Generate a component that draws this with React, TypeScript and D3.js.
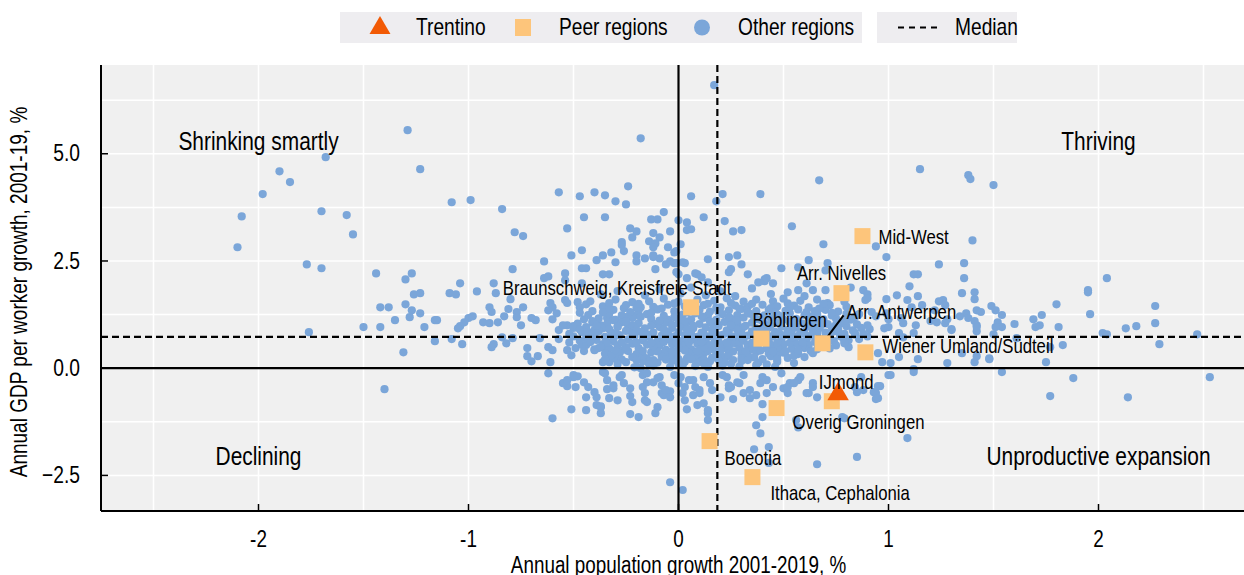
import React from "react";
import * as d3 from "d3";

// ---------- DATA ----------
const xTicks = [-2, -1, 0, 1, 2];
const yTicks = [-2.5, 0, 2.5, 5];
const xGrid = [-2.5, -2, -1.5, -1, -0.5, 0, 0.5, 1, 1.5, 2, 2.5];
const yGrid = [-2.5, -1.25, 0, 1.25, 2.5, 3.75, 5, 6.25];
const medianX = 0.185;
const medianY = 0.73;

const quadrantLabels = ["Shrinking smartly", "Thriving", "Declining", "Unproductive expansion"];
const quadrantX = [-2, 2, -2, 2];
const quadrantY = [5.3, 5.3, -2.05, -2.05];

const trentinoX = 0.76;
const trentinoY = -0.58;

const peerNames = [
  "Mid-West",
  "Arr. Nivelles",
  "Arr. Antwerpen",
  "Braunschweig, Kreisfreie Stadt",
  "Böblingen",
  "Wiener Umland/Südteil",
  "IJmond",
  "Overig Groningen",
  "Boeotia",
  "Ithaca, Cephalonia",
];
const peerX = [0.876, 0.776, 0.686, 0.06, 0.395, 0.89, 0.73, 0.467, 0.148, 0.352];
const peerY = [3.08, 1.75, 0.58, 1.42, 0.69, 0.37, -0.77, -0.93, -1.7, -2.54];

const otherRegions: [number, number][] = [
  // far left
  [-2.08,3.54],[-2.10,2.82],[-1.98,4.06],[-1.90,4.59],[-1.85,4.34],[-1.68,4.92],[-1.70,3.66],[-1.58,3.57],[-1.55,3.12],[-1.77,2.42],[-1.70,2.33],[-1.76,0.84],[-1.29,5.55],[-1.23,4.64],[-1.40,-0.49],[-1.31,0.37],
  [-1.44,2.21],[-1.30,2.07],[-1.27,2.21],[-1.26,1.72],[-1.23,1.75],[-1.42,1.42],[-1.38,1.42],[-1.30,1.49],[-1.27,1.35],[-1.28,1.19],[-1.23,1.28],[-1.35,1.12],[-1.50,0.96],[-1.42,0.96],[-1.21,0.96],[-1.16,1.12],[-1.15,1.12],[-1.16,0.63],
  [-1.08,3.87],[-0.99,3.92],[-0.84,3.71],[-0.78,3.17],[-0.74,3.08],[-0.57,4.10],[-0.47,4.01],[-0.40,4.10],[-0.35,4.03],[-0.30,3.89],[-0.25,3.82],[-0.24,4.24],[-0.18,5.36],[0.06,4.01],[-0.45,3.52],[-0.35,3.52],[-0.53,3.26],[-0.46,2.75],[-0.51,2.63],[-0.64,2.49],[-0.79,2.31],[-1.04,1.98],[-0.88,1.98],[-0.96,1.79],[-1.09,1.75],[-1.06,1.72],[-0.87,1.75],[-0.54,2.21],[-0.46,2.33],[-0.44,2.33],[-0.36,2.19],[-0.33,2.19],[-0.39,2.52],[-0.36,2.63],[-0.32,2.70],[-0.30,2.47],[-0.26,2.73],[-0.27,2.94],[-0.27,2.87],[-0.22,3.05],[-0.23,3.26],[-0.20,3.19],[-0.13,3.47],[-0.10,3.47],[-0.07,3.64],[-0.12,3.15],[-0.09,3.05],[-0.04,3.19],[-0.14,2.96],[-0.11,2.91],[-0.12,2.82],[-0.05,2.82],[-0.01,2.73],[0.01,2.89],[0.00,3.45],[0.04,3.40],[0.04,3.22],[0.06,3.24],[-0.20,2.63],[-0.16,2.56],[-0.12,2.59],[-0.09,2.56],[-0.04,2.49],[-0.02,2.45],[-0.06,2.42],[0.02,2.47],[0.03,2.45],[-0.11,2.31],[-0.20,2.49],[-0.01,2.24],[0.00,2.19],[0.04,2.10],[0.09,2.19],[-0.64,2.10],[-0.62,2.14],[-0.54,2.05],[-0.46,1.98],
  // upper right
  [0.17,6.60],[1.15,4.64],[0.67,4.38],[0.39,4.06],[0.21,4.06],[0.18,3.89],[0.12,3.52],[0.22,3.43],[0.26,3.19],[0.30,3.22],[0.54,3.31],[0.69,2.89],[0.94,2.84],[0.99,2.59],[1.24,2.42],[0.14,2.54],[0.24,2.59],[0.28,2.63],[0.30,2.42],[0.25,2.31],[0.24,2.24],[0.33,2.19],[0.41,2.07],[0.41,2.03],[0.62,2.52],[0.70,2.28],[1.12,2.19],[1.14,2.19],[1.10,1.91],
  [1.38,4.50],[1.39,4.41],[1.50,4.27],[1.40,2.98],[1.36,2.45],[1.36,2.10],[1.35,1.75],[1.41,1.77],[1.41,1.61],[1.26,1.59],[1.49,1.45],[1.51,1.35],[1.54,1.24],[1.42,1.35],[1.44,1.31],[1.37,1.28],[1.38,1.17],[1.34,1.21],[1.27,1.05],[1.30,0.91],[1.42,1.00],[1.42,0.86],[1.52,1.07],[1.54,0.96],[1.51,0.96],[1.60,1.03],[1.50,0.79],[1.69,1.14],[1.73,1.24],[1.70,0.96],[1.72,1.00],[1.80,1.49],[1.81,0.96],[1.61,0.70],[1.77,0.49],[1.83,0.54],[1.75,0.14],[1.54,-0.09],[1.41,0.14],[1.42,0.28],[1.48,0.21],[1.28,0.12],[1.35,0.35],[1.88,-0.23],[1.77,-0.65],[1.95,1.82],[1.95,1.77],[1.96,1.26],[2.04,2.10],[2.02,0.82],[2.04,0.79],[2.13,0.93],[2.18,0.98],[2.27,1.45],[2.27,1.05],[2.29,0.56],[2.14,-0.68],[2.47,0.79],[2.53,-0.21],
  // right of the core
  [1.14,1.68],[1.09,1.59],[1.04,1.70],[1.24,1.56],[0.99,1.61],[0.88,1.82],[0.90,1.72],[0.89,1.59],[0.90,1.63],[1.16,1.47],[1.11,1.42],[1.22,1.35],[1.27,1.47],[0.70,1.82],[0.71,1.52],[0.92,1.31],[0.94,1.21],[0.84,1.19],[0.86,1.26],[0.99,1.28],[1.00,1.14],[1.06,1.17],[1.07,1.05],[1.13,1.00],[1.12,0.82],[1.20,1.10],[1.23,1.07],[1.28,1.14],[1.30,0.89],[1.41,1.10],[1.42,0.96],[0.91,0.91],[0.98,0.93],[1.00,0.96],[1.05,0.82],[1.07,0.72],[0.84,0.82],[0.86,0.68],[0.78,0.72],[0.79,0.63],[0.74,0.86],[0.81,0.49],[0.95,0.35],[0.97,0.14],[1.01,0.12],[1.05,0.26],[1.12,-0.02],[1.14,0.21],[1.48,0.23],[1.00,-0.16],[0.96,-0.42],[0.93,-0.56],[0.94,-0.72],[0.84,-0.44],[0.85,-0.56],[0.78,-1.14],[1.09,-1.63],
  // left of the core
  [-0.80,1.61],[-0.54,1.59],[-0.53,1.52],[-0.61,1.52],[-0.60,1.42],[-0.62,1.35],[-0.58,1.28],[-0.48,1.54],[-0.47,1.42],[-0.44,1.49],[-0.42,1.56],[-0.22,1.54],[-0.18,1.42],[-0.26,1.40],[-0.90,1.42],[-0.89,1.31],[-0.81,1.38],[-0.77,1.31],[-0.77,1.19],[-0.74,1.42],[-0.70,1.17],[-0.68,1.12],[-0.98,1.21],[-1.00,1.17],[-1.02,1.07],[-1.04,0.98],[-1.05,0.93],[-0.93,1.07],[-0.90,1.05],[-0.86,1.07],[-0.83,1.21],[-0.75,1.00],[-0.60,1.14],[-0.57,0.89],[-0.53,1.00],[-0.50,0.98],[-0.46,0.84],[-0.43,0.84],[-0.40,0.89],[-0.37,1.00],[-0.34,1.17],[-0.31,1.12],[-0.29,0.96],[-0.25,1.19],[-0.24,1.00],[-0.20,1.24],[-1.08,0.68],[-1.03,0.56],[-0.88,0.56],[-0.89,0.49],[-0.84,0.72],[-0.82,0.58],[-0.79,0.70],[-0.72,0.47],[-0.66,0.70],[-0.72,0.28],[-0.70,0.16],[-0.67,0.28],[-0.62,0.49],[-0.60,0.42],[-0.57,0.68],[-0.53,0.42],[-0.51,0.30],[-0.61,0.14],[-0.62,-0.12],[-0.49,0.47],[-0.46,0.54],[-0.43,0.65],[-0.40,0.42],[-0.38,0.47],[-0.36,0.49],[-0.54,-0.35],[-0.53,-0.42],[-0.50,-0.16],[-0.48,-0.19],[-0.49,-0.44],[-0.44,-0.68],[-0.40,-0.56],[-0.39,-0.68],[-0.51,-0.96],[-0.60,-1.17],[-0.44,-0.98],[-0.39,-0.86],[-0.37,-0.91],[-0.34,-0.49],[-0.31,-0.47],[-0.33,-0.70],[-0.29,-0.75],[-0.36,-0.09],[-0.27,-0.16],[-0.23,-0.65],[-0.22,-0.79],[-0.23,-1.07],[-0.19,-1.14],[-0.17,-0.44],[-0.21,0.02],[-0.18,0.00],[-0.16,-0.75],[-0.36,0.14],[-0.33,0.14],[-0.31,0.23],
  // below zero
  [-0.37,-0.89],[-0.37,-1.05],[-0.11,-1.05],[-0.10,-0.91],[-0.15,-0.79],[-0.16,-0.58],[-0.08,-0.58],[-0.04,-0.54],[0.02,-0.58],[0.03,-0.75],[0.04,-0.96],[0.09,-0.86],[0.12,-0.82],[0.14,-1.05],[0.14,-1.21],[0.07,-0.63],[-0.04,-2.66],[0.02,-2.84],[0.24,-0.47],[0.26,-0.72],[0.31,-0.58],[0.34,-0.70],[0.37,-1.33],[0.39,-1.52],[0.40,-0.84],[0.40,-1.14],[0.36,-1.89],[0.43,-1.84],[0.43,-2.21],[0.42,-0.58],[0.45,-0.44],[0.50,-0.47],[0.52,-0.58],[0.56,-1.21],[0.57,-1.38],[0.66,-2.24],[0.62,-0.58],[0.66,-0.68],[0.64,-0.35],[0.79,-1.17],[0.85,-2.07],[0.95,-0.42],[0.94,-0.58],[0.95,-0.70],[0.88,-0.51],[0.87,-0.21],[0.40,-0.21],[0.39,-0.35],[0.28,-0.33],[0.31,-0.16],[0.21,-0.16],[0.24,-0.40],[0.12,-0.21],[0.15,-0.35],
  [-0.35,-0.12],[-0.34,-0.28],[-0.31,-0.40],[-0.28,-0.21],[-0.26,-0.35],[-0.23,-0.47],[-0.17,-0.16],[-0.15,-0.33],[-0.10,-0.23],[-0.08,-0.40],[-0.07,-0.63],[-0.02,-0.16],[0.00,-0.35],[0.05,-0.28],[0.08,-0.44],[0.10,-0.51],[-0.45,-0.33],[-0.43,-0.44],[-0.50,-0.21],[-0.55,-0.35],[-0.53,-0.28],[0.53,-0.35],[0.57,-0.28],[1.01,-0.16],[1.12,-0.09],
  [-0.15,-0.12],[-0.12,-0.33],[-0.09,-0.21],[-0.06,-0.51],[-0.04,-0.68],[0.01,-0.21],[0.03,-0.44],[0.07,-0.28],[0.10,-0.58],[0.14,-0.98],[0.16,-0.51],[0.20,-0.68],[0.23,-0.21],[0.25,-0.44],[0.29,-0.35],[0.34,-0.51],[0.37,-0.63],[0.42,-0.28],[0.49,-0.12],[0.52,-0.44],[0.55,-0.35],[0.58,-0.21],[0.61,-0.58],[0.64,-0.44],
  // above the core
  [-0.12,2.63],[-0.02,2.70],[-0.01,2.45],[0.08,2.21],[0.11,2.12],[0.14,2.00],[0.38,2.00],[0.42,2.10],[0.45,1.98],[0.49,2.33],[0.57,2.35],[0.52,1.77],[0.57,1.82],[0.61,1.98],[0.64,1.82],[0.71,2.45],
  // dense core
  [-0.37,1.72],[-0.29,1.8],[-0.16,1.7],[-0.09,1.84],[0.01,1.74],[0.06,1.88],[0.13,1.7],[0.2,1.79],[0.27,1.68],[0.35,1.86],[0.44,1.73],[0.6,1.68],[0.76,1.7],[0.82,1.88],
  [-0.3,1.6],[-0.14,1.56],[-0.07,1.62],[0.0,1.55],[0.09,1.6],[0.17,1.57],[0.23,1.63],[0.31,1.55],[0.37,1.6],[0.45,1.56],[0.5,1.62],[0.58,1.57],[0.66,1.6],[0.79,1.55],
  [-0.36,1.44],[-0.25,1.47],[-0.12,1.43],[-0.05,1.48],[0.03,1.44],[0.12,1.47],[0.2,1.42],[0.27,1.46],[0.33,1.43],[0.4,1.48],[0.47,1.44],[0.55,1.46],[0.62,1.42],[0.72,1.47],[0.8,1.43],
  [-0.41,1.33],[-0.31,1.36],[-0.19,1.34],[-0.1,1.37],[-0.02,1.33],[0.1,1.36],[0.15,1.32],[0.24,1.35],[0.3,1.38],[0.37,1.33],[0.43,1.36],[0.51,1.34],[0.57,1.37],[0.65,1.33],[0.7,1.36],[0.76,1.32],
  [-0.43,1.24],[-0.33,1.27],[-0.27,1.23],[-0.15,1.26],[-0.07,1.22],[0.02,1.25],[0.08,1.28],[0.14,1.23],[0.21,1.26],[0.28,1.24],[0.34,1.27],[0.41,1.23],[0.47,1.25],[0.53,1.28],[0.6,1.24],[0.66,1.26],[0.73,1.23],[0.8,1.27],
  [-0.45,1.14],[-0.38,1.16],[-0.3,1.13],[-0.22,1.17],[-0.13,1.15],[-0.05,1.13],[0.01,1.16],[0.06,1.14],[0.12,1.17],[0.18,1.13],[0.25,1.15],[0.31,1.18],[0.38,1.14],[0.44,1.16],[0.5,1.13],[0.56,1.15],[0.62,1.17],[0.69,1.14],[0.75,1.16],[0.82,1.13],
  [-0.48,1.04],[-0.41,1.06],[-0.34,1.03],[-0.27,1.07],[-0.19,1.05],[-0.11,1.03],[-0.06,1.06],[0.0,1.04],[0.04,1.07],[0.1,1.03],[0.16,1.05],[0.22,1.08],[0.28,1.04],[0.35,1.06],[0.41,1.03],[0.47,1.05],[0.53,1.07],[0.59,1.04],[0.65,1.06],[0.71,1.03],[0.78,1.05],[0.85,1.02],
  [-0.5,0.94],[-0.44,0.96],[-0.36,0.93],[-0.29,0.97],[-0.23,0.95],[-0.16,0.93],[-0.09,0.96],[-0.03,0.94],[0.02,0.97],[0.07,0.93],[0.13,0.95],[0.19,0.98],[0.25,0.94],[0.31,0.96],[0.37,0.93],[0.43,0.95],[0.49,0.97],[0.55,0.94],[0.61,0.96],[0.67,0.93],[0.73,0.95],[0.8,0.98],[0.87,0.94],
  [-0.45,0.84],[-0.38,0.86],[-0.32,0.83],[-0.25,0.87],[-0.18,0.85],[-0.12,0.83],[-0.06,0.86],[0.0,0.84],[0.05,0.87],[0.11,0.83],[0.17,0.85],[0.23,0.88],[0.29,0.84],[0.35,0.86],[0.41,0.83],[0.46,0.85],[0.52,0.87],[0.58,0.84],[0.64,0.86],[0.7,0.83],[0.76,0.85],[0.83,0.88],
  [-0.5,0.74],[-0.42,0.76],[-0.35,0.73],[-0.28,0.77],[-0.21,0.75],[-0.14,0.73],[-0.08,0.76],[-0.02,0.74],[0.03,0.77],[0.09,0.73],[0.15,0.75],[0.21,0.78],[0.27,0.74],[0.33,0.76],[0.39,0.73],[0.45,0.75],[0.51,0.77],[0.57,0.74],[0.63,0.76],[0.71,0.73],[0.77,0.75],[0.84,0.78],[0.9,0.74],
  [-0.47,0.64],[-0.39,0.66],[-0.31,0.63],[-0.24,0.67],[-0.17,0.65],[-0.1,0.63],[-0.04,0.66],[0.02,0.64],[0.07,0.67],[0.13,0.63],[0.19,0.65],[0.25,0.68],[0.31,0.64],[0.37,0.66],[0.43,0.63],[0.49,0.65],[0.55,0.67],[0.61,0.64],[0.67,0.66],[0.74,0.63],[0.81,0.65],
  [-0.44,0.54],[-0.36,0.56],[-0.29,0.53],[-0.22,0.57],[-0.15,0.55],[-0.09,0.53],[-0.03,0.56],[0.03,0.54],[0.09,0.57],[0.15,0.53],[0.21,0.55],[0.27,0.58],[0.33,0.54],[0.38,0.56],[0.44,0.53],[0.5,0.55],[0.56,0.57],[0.62,0.54],[0.68,0.56],[0.75,0.53],
  [-0.4,0.44],[-0.33,0.46],[-0.26,0.43],[-0.19,0.47],[-0.12,0.45],[-0.06,0.43],[0.0,0.46],[0.06,0.44],[0.11,0.47],[0.17,0.43],[0.23,0.45],[0.29,0.48],[0.35,0.44],[0.42,0.46],[0.48,0.43],[0.54,0.45],[0.6,0.47],[0.66,0.44],[0.72,0.46],
  [-0.35,0.34],[-0.28,0.36],[-0.2,0.33],[-0.13,0.37],[-0.07,0.35],[-0.01,0.33],[0.05,0.36],[0.12,0.34],[0.18,0.37],[0.24,0.33],[0.3,0.35],[0.37,0.38],[0.43,0.34],[0.5,0.36],[0.57,0.33],[0.64,0.35],
  [-0.3,0.24],[-0.22,0.26],[-0.15,0.23],[-0.08,0.27],[-0.02,0.25],[0.04,0.23],[0.1,0.26],[0.16,0.24],[0.23,0.27],[0.3,0.23],[0.36,0.25],[0.44,0.28],[0.52,0.24],[0.6,0.26],
  [-0.25,0.14],[-0.17,0.16],[-0.1,0.13],[-0.03,0.17],[0.03,0.15],[0.09,0.13],[0.15,0.16],[0.22,0.14],[0.3,0.17],[0.38,0.13],[0.47,0.15],[0.55,0.12],
  [-0.2,0.04],[-0.12,0.06],[-0.04,0.03],[0.02,0.07],[0.08,0.05],[0.14,0.03],[0.21,0.06],[0.29,0.04],[0.37,0.07],[0.46,0.03],
  [-0.22,1.0],[-0.13,0.99],[-0.03,1.01],[0.07,0.99],[0.19,1.01],[0.32,0.99],[0.44,1.01],[0.56,0.99],[0.68,1.0],
  [-0.3,0.8],[-0.15,0.79],[-0.05,0.81],[0.06,0.8],[0.18,0.79],[0.3,0.81],[0.42,0.8],[0.54,0.79],[0.66,0.81],[0.79,0.8],
  [-0.34,0.6],[-0.2,0.59],[-0.07,0.61],[0.05,0.6],[0.17,0.59],[0.29,0.61],[0.41,0.6],[0.53,0.59],[0.65,0.61],
  [-0.24,0.4],[-0.1,0.39],[0.03,0.41],[0.14,0.4],[0.26,0.39],[0.39,0.41],[0.51,0.4],
  [-0.18,1.2],[-0.02,1.19],[0.11,1.21],[0.24,1.2],[0.36,1.19],[0.49,1.21],[0.63,1.2],
  [-0.33,1.4],[-0.2,1.41],[-0.08,1.39],[0.06,1.4],[0.18,1.41],[0.29,1.39],[0.44,1.4],[0.53,1.41],[0.67,1.39],
  [-0.41,1.1],[-0.25,1.09],[-0.09,1.11],[0.03,1.1],[0.15,1.09],[0.28,1.11],[0.4,1.1],[0.53,1.09],[0.66,1.11],[0.79,1.1],
  [-0.47,0.9],[-0.33,0.91],[-0.2,0.89],[-0.07,0.9],[0.04,0.91],[0.16,0.89],[0.28,0.9],[0.4,0.91],[0.52,0.89],[0.64,0.9],[0.76,0.91],
  [-0.44,0.7],[-0.31,0.69],[-0.17,0.71],[-0.05,0.7],[0.06,0.69],[0.18,0.71],[0.3,0.7],[0.42,0.69],[0.54,0.71],[0.66,0.7],[0.8,0.69],
  [-0.37,0.5],[-0.25,0.49],[-0.12,0.51],[0.0,0.5],[0.12,0.49],[0.24,0.51],[0.36,0.5],[0.47,0.49],[0.59,0.51],[0.71,0.5],
  [-0.32,0.3],[-0.17,0.29],[-0.04,0.31],[0.08,0.3],[0.2,0.29],[0.33,0.31],[0.47,0.3],[0.55,0.29],
  [-0.27,0.2],[-0.12,0.19],[0.0,0.21],[0.12,0.2],[0.26,0.19],[0.4,0.21],
  [-0.47,1.29],[-0.36,1.3],[-0.23,1.31],[-0.13,1.29],[0.04,1.3],[0.19,1.31],[0.33,1.29],[0.46,1.3],[0.61,1.31],[0.73,1.29],
  [-0.55,1.0],[-0.39,0.99],[0.25,1.0],[0.62,0.99],[0.75,1.01],[0.9,1.0],
  [-0.52,0.8],[-0.4,0.81],[-0.22,0.8],[0.12,0.8],[0.24,0.8],[0.36,0.8],[0.48,0.81],[0.6,0.8],[0.72,0.79],[0.88,0.8],
  [-0.52,0.6],[-0.42,0.61],[-0.27,0.6],[-0.13,0.59],[-0.01,0.6],[0.11,0.61],[0.23,0.6],[0.35,0.59],[0.47,0.6],[0.59,0.61],[0.71,0.6],[0.79,0.58],
  [-0.45,0.4],[-0.3,0.41],[-0.17,0.4],[-0.03,0.39],[0.09,0.4],[0.2,0.41],[0.32,0.4],[0.45,0.39],[0.57,0.41],[0.63,0.4],
  [-0.35,0.2],[-0.2,0.19],[-0.06,0.2],[0.06,0.21],[0.19,0.2],[0.33,0.19],[0.47,0.21],
  [-0.29,0.1],[-0.14,0.09],[0.0,0.1],[0.12,0.11],[0.25,0.1],[0.42,0.09],
  [-0.33,1.52],[-0.19,1.5],[-0.02,1.51],[0.14,1.5],[0.25,1.52],[0.35,1.5],[0.52,1.51],[0.69,1.5],
];

// label placement (pixel offsets from the marker; anchor)
const peerLabelDx = [16, 0, 24, -74, -9, 17, -13, 16, 15, 18];
const peerLabelDy = [1, -20, -31, -19, -19, -6, -19, 14, 17, 16];
const peerLabelAnchor = ["start", "middle", "start", "middle", "start", "start", "start", "start", "start", "start"];

// ---------- STYLE ----------
const FONT = "'Liberation Sans', Arial, sans-serif";
const NARROW = 0.82;
const BLUE = "#7ba6d9";
const PEER = "#fdc57b";
const TRENTINO = "#f25a05";
const BG = "#f0f0f0";

function T(props: { x: number; y: number; size: number; anchor?: string; rotate?: number; children: React.ReactNode }) {
  const { x, y, size, anchor = "start", rotate = 0, children } = props;
  return (
    <text
      transform={`translate(${x},${y})${rotate ? ` rotate(${rotate})` : ""} scale(${NARROW},1)`}
      textAnchor={anchor as any}
      dominantBaseline="central"
      fontSize={size}
      fontFamily={FONT}
      fill="#000"
    >
      {children}
    </text>
  );
}

export default function App() {
  const W = 1244, H = 575;
  const left = 101, right = 1245.5, top = 65, bottom = 511;
  const x = d3.scaleLinear().domain([-2.75, 2.7]).range([left, right]);
  const y = d3.scaleLinear().domain([-3.33, 7.07]).range([bottom, top]);
  const tri = d3.symbol().type(d3.symbolTriangle).size(200)();
  const triLegend = d3.symbol().type(d3.symbolTriangle).size(190)();

  return (
    <div style={{ position: "fixed", left: 0, top: 0 }}>
      <svg width={W} height={H} style={{ display: "block", background: "#fff" }}>
        {/* plot background */}
        <rect x={left} y={top} width={W - left} height={bottom - top} fill={BG} />
        {xGrid.map((v) => (
          <line key={"gx" + v} x1={x(v)} x2={x(v)} y1={top} y2={bottom} stroke="#fff" strokeWidth={1.5} />
        ))}
        {yGrid.map((v) => (
          <line key={"gy" + v} x1={left} x2={W} y1={y(v)} y2={y(v)} stroke="#fff" strokeWidth={1.5} />
        ))}

        {/* other regions */}
        {otherRegions.map((d, i) => (
          <circle key={"o" + i} cx={x(d[0])} cy={y(d[1])} r={4.1} fill={BLUE} />
        ))}

        {/* zero lines */}
        <line x1={x(0)} x2={x(0)} y1={top} y2={bottom} stroke="#000" strokeWidth={2.2} />
        <line x1={left} x2={W} y1={y(0)} y2={y(0)} stroke="#000" strokeWidth={2.2} />
        {/* medians */}
        <line x1={x(medianX)} x2={x(medianX)} y1={top} y2={bottom} stroke="#000" strokeWidth={2.2} strokeDasharray="7,4" />
        <line x1={left} x2={W} y1={y(medianY)} y2={y(medianY)} stroke="#000" strokeWidth={2.2} strokeDasharray="7,4" />

        {/* axes */}
        <line x1={left} x2={left} y1={top} y2={bottom} stroke="#000" strokeWidth={2} />
        <line x1={left} x2={W} y1={bottom} y2={bottom} stroke="#000" strokeWidth={2} />
        {xTicks.map((v) => (
          <g key={"xt" + v}>
            <line x1={x(v)} x2={x(v)} y1={bottom} y2={bottom - 7} stroke="#000" strokeWidth={1.5} />
            <T x={x(v)} y={538.5} size={23} anchor="middle">{v}</T>
          </g>
        ))}
        {yTicks.map((v) => (
          <g key={"yt" + v}>
            <line x1={left} x2={left + 7} y1={y(v)} y2={y(v)} stroke="#000" strokeWidth={1.5} />
            <T x={80} y={y(v)} size={23.5} anchor="end">{d3.format(".1f")(v)}</T>
          </g>
        ))}
        <T x={x(0)} y={564.5} size={23} anchor="middle">Annual population growth 2001-2019, %</T>
        <T x={19} y={(top + bottom) / 2 + 4} size={23.2} anchor="middle" rotate={-90}>
          Annual GDP per worker growth, 2001-19, %
        </T>

        {/* quadrant labels */}
        {quadrantLabels.map((t, i) => (
          <T key={t} x={x(quadrantX[i])} y={y(quadrantY[i])} size={25.5} anchor="middle">{t}</T>
        ))}

        {/* leader line for Arr. Antwerpen */}
        <line x1={x(peerX[2])} y1={y(peerY[2])} x2={x(peerX[2]) + 21} y2={y(peerY[2]) - 28} stroke="#000" strokeWidth={2} />

        {/* peer regions */}
        {peerNames.map((n, i) => (
          <rect key={"p" + i} x={x(peerX[i]) - 8} y={y(peerY[i]) - 8} width={16} height={16} fill={PEER} />
        ))}
        {/* Trentino */}
        <path d={tri as string} transform={`translate(${x(trentinoX)},${y(trentinoY) + 1})`} fill={TRENTINO} />

        {peerNames.map((n, i) => (
          <T key={"pl" + i} x={x(peerX[i]) + peerLabelDx[i]} y={y(peerY[i]) + peerLabelDy[i]} size={20.4} anchor={peerLabelAnchor[i]}>
            {n}
          </T>
        ))}

        {/* legend */}
        <rect x={340} y={12} width={522} height={31} fill="#eeedf0" />
        <rect x={877} y={12} width={140} height={31} fill="#eeedf0" />
        <path d={triLegend as string} transform="translate(380,28)" fill={TRENTINO} />
        <T x={416} y={27.5} size={23.4}>Trentino</T>
        <rect x={515} y={19} width={16} height={17} fill={PEER} />
        <T x={559} y={27.5} size={23.4}>Peer regions</T>
        <circle cx={702} cy={27.5} r={8} fill={BLUE} />
        <T x={738} y={27.5} size={23.4}>Other regions</T>
        <line x1={898} x2={938} y1={27.5} y2={27.5} stroke="#000" strokeWidth={2} strokeDasharray="6,5" />
        <T x={955} y={27.5} size={23.4}>Median</T>
      </svg>
    </div>
  );
}
